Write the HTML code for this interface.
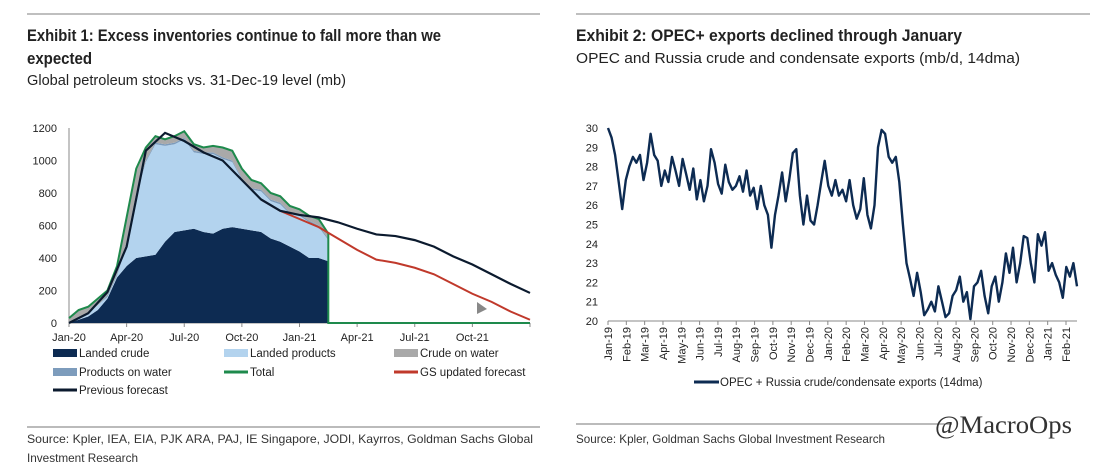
<!DOCTYPE html>
<html><head><meta charset="utf-8"><style>
html,body{margin:0;padding:0;background:#fff;}
svg{display:block;font-family:"Liberation Sans Narrow","Liberation Sans",sans-serif;}
</style></head><body>
<svg id="root" width="1116" height="476" viewBox="0 0 1116 476" xmlns="http://www.w3.org/2000/svg">
<line x1="27" y1="14" x2="540" y2="14" stroke="#999" stroke-width="1.2"/>
<line x1="576" y1="14" x2="1090" y2="14" stroke="#999" stroke-width="1.2"/>
<text x="27" y="41" font-size="17" font-weight="bold" fill="#222" textLength="414" lengthAdjust="spacingAndGlyphs">Exhibit 1: Excess inventories continue to fall more than we</text>
<text x="27" y="64" font-size="17" font-weight="bold" fill="#222" textLength="65" lengthAdjust="spacingAndGlyphs">expected</text>
<text x="27" y="85" font-size="15" fill="#222" textLength="319" lengthAdjust="spacingAndGlyphs">Global petroleum stocks vs. 31-Dec-19 level (mb)</text>
<text x="576" y="41" font-size="17" font-weight="bold" fill="#222" textLength="386" lengthAdjust="spacingAndGlyphs">Exhibit 2: OPEC+ exports declined through January</text>
<text x="576" y="63" font-size="15" fill="#222" textLength="444" lengthAdjust="spacingAndGlyphs">OPEC and Russia crude and condensate exports (mb/d, 14dma)</text>
<g id="left"></g>
<g id="right"></g>
<line x1="27" y1="427" x2="540" y2="427" stroke="#777" stroke-width="1"/>
<line x1="576" y1="424" x2="952" y2="424" stroke="#777" stroke-width="1"/>
<text x="27" y="443" font-size="12" fill="#333" textLength="506" lengthAdjust="spacingAndGlyphs">Source: Kpler, IEA, EIA, PJK ARA, PAJ, IE Singapore, JODI, Kayrros, Goldman Sachs Global</text>
<text x="27" y="462" font-size="12" fill="#333" textLength="111" lengthAdjust="spacingAndGlyphs">Investment Research</text>
<text x="576" y="443" font-size="12" fill="#333" textLength="309" lengthAdjust="spacingAndGlyphs">Source: Kpler, Goldman Sachs Global Investment Research</text>
<text x="935" y="433" font-size="25" fill="#333" font-family="'Liberation Serif',serif" textLength="137" lengthAdjust="spacingAndGlyphs">@MacroOps</text>
</svg>
<script>
// ---- Left chart data (half-monthly from Jan-20) ----
const landedCrude = [0,20,40,80,150,280,350,400,410,420,500,560,570,580,560,550,580,590,580,570,560,520,500,470,440,400,400,380];
const landedProducts = [0,10,20,30,10,10,130,380,580,680,590,540,560,470,480,490,430,400,300,250,250,230,230,200,220,220,190,130];
const crudeOnWater = [30,50,40,40,30,50,150,150,80,40,30,40,40,40,30,40,60,60,60,50,40,40,40,40,30,30,40,30];
const productsOnWater = [0,0,0,0,10,10,20,20,10,10,10,10,10,10,10,10,10,10,10,10,10,10,10,10,10,10,10,10];
const totalStocks = [30,80,100,150,200,350,650,950,1080,1150,1130,1150,1180,1100,1080,1090,1080,1060,950,880,860,800,780,720,700,660,640,550];
// monthly Jan-20..Jan-22
const previousForecast = [0,60,190,470,1060,1170,1120,1050,1000,880,760,690,665,650,620,580,545,535,510,470,410,360,300,240,185];
// monthly Nov-20..Jan-22
const gsForecast = [760,690,640,590,520,450,390,370,340,300,240,180,130,70,20];
const leftYTicks = [0,200,400,600,800,1000,1200];
const leftXLabels = ["Jan-20","Apr-20","Jul-20","Oct-20","Jan-21","Apr-21","Jul-21","Oct-21"];

// ---- Right chart data (weekly from Jan-19) ----
const opecExports = [30,29.5,28.6,27.2,25.8,27.3,28,28.5,28.2,28.6,27.3,28.2,29.7,28.6,28.3,27.0,27.8,27.2,28.5,27.8,27.0,28.4,27.6,26.8,27.9,26.3,27.3,26.2,27.0,28.9,28.2,27.1,26.6,28.1,27.2,26.8,27.0,27.5,26.7,27.8,26.5,26.9,25.8,27.0,26.0,25.5,23.8,25.5,26.5,27.7,26.2,27.3,28.7,28.9,26.5,25.0,26.5,25.2,25.0,26.0,27.2,28.3,27.0,26.5,27.3,26.5,26.8,26.2,27.3,26.0,25.3,25.8,27.4,25.5,24.8,26.0,29.0,29.9,29.7,28.5,28.2,28.5,27.2,25.0,23.0,22.2,21.3,22.5,21.5,20.3,20.6,21.0,20.5,21.8,21.0,20.2,20.4,21.3,21.6,22.3,21.0,21.5,20.1,21.8,22.0,22.6,21.3,20.4,21.8,22.3,21.0,22.0,23.5,22.5,23.8,22.0,23.0,24.4,24.3,23.0,22.0,24.5,23.9,24.6,22.6,23.0,22.4,22.0,21.2,22.8,22.3,23.0,21.8];
const rightYTicks = [20,21,22,23,24,25,26,27,28,29,30];
const rightXLabels = ["Jan-19","Feb-19","Mar-19","Apr-19","May-19","Jun-19","Jul-19","Aug-19","Sep-19","Oct-19","Nov-19","Dec-19","Jan-20","Feb-20","Mar-20","Apr-20","May-20","Jun-20","Jul-20","Aug-20","Sep-20","Oct-20","Nov-20","Dec-20","Jan-21","Feb-21"];

const NS="http://www.w3.org/2000/svg";
function mk(parent,tag,attrs){const e=document.createElementNS(NS,tag);for(const k in attrs)e.setAttribute(k,attrs[k]);parent.appendChild(e);return e;}

// ---- Left chart ----
(function(){
const g=document.getElementById('left');
const x0=69,x1=530,yb=323,yt=128;
const xm=m=>x0+(x1-x0)*m/24;      // months since Jan-20
const y=v=>yb-(yb-yt)*v/1200;
leftYTicks.forEach(t=>{
  const tx=mk(g,'text',{x:57,y:y(t)+4,'font-size':11,'text-anchor':'end',fill:'#222'});
  tx.textContent=t;
  
  
});
const ax=mk(g,'line',{x1:x0,y1:yb,x2:x0,y2:yt,stroke:'#888'});


const xa=mk(g,'line',{x1:x0,y1:yb,x2:x1,y2:yb,stroke:'#888'});


leftXLabels.forEach((l,i)=>{
  const tx=mk(g,'text',{x:xm(i*3),y:341,'font-size':11,'text-anchor':'middle',fill:'#222'});
  tx.textContent=l;
  
  
  mk(g,'line',{x1:xm(i*3),y1:yb,x2:xm(i*3),y2:yb+4,stroke:'#888'});
});
mk(g,'line',{x1:x1,y1:yb,x2:x1,y2:yb+4,stroke:'#888'});
const n=landedCrude.length;
const xs=i=>xm(i/2);
const layers=[[landedCrude,'#0d2b52','landed-crude-area'],[landedProducts,'#b3d3ee','landed-products-area'],[productsOnWater,'#7d9cbc','products-on-water-area'],[crudeOnWater,'#a9a9a9','crude-on-water-area']];
let base=new Array(n).fill(0);
layers.forEach(([arr,col,name])=>{
  const top=base.map((b,i)=>b+arr[i]);
  let d='M'+xs(0)+','+y(top[0]);
  for(let i=1;i<n;i++)d+='L'+xs(i)+','+y(top[i]);
  for(let i=n-1;i>=0;i--)d+='L'+xs(i)+','+y(base[i]);
  const p=mk(g,'path',{d:d+'Z',fill:col});
  
  
  base=top;
});
let d='M'+xs(0)+','+y(totalStocks[0]);
for(let i=1;i<n;i++)d+='L'+xs(i)+','+y(totalStocks[i]);
d+='L'+xs(n-1)+','+y(0)+'L'+x1+','+y(0);
const tl=mk(g,'path',{d:d,fill:'none',stroke:'#1e8a4c','stroke-width':2});


d='';gsForecast.forEach((v,i)=>{d+=(i?'L':'M')+xm(10+i)+','+y(v);});
const gl=mk(g,'path',{d:d,fill:'none',stroke:'#c0392b','stroke-width':2});


d='';previousForecast.forEach((v,i)=>{d+=(i?'L':'M')+xm(i)+','+y(v);});
const pl=mk(g,'path',{d:d,fill:'none',stroke:'#0b1a2e','stroke-width':2.2});


mk(g,'path',{d:'M477,302 L477,314 L487,309 Z',fill:'#888'});
const leg=[['Landed crude','#0d2b52',53,353,8],['Landed products','#b3d3ee',224,353,8],['Crude on water','#a9a9a9',394,353,8],['Products on water','#7d9cbc',53,372,8],['Total','#1e8a4c',224,372,3],['GS updated forecast','#c0392b',394,372,3],['Previous forecast','#0b1a2e',53,390,3]];
leg.forEach(([t,c,lx,ly,h])=>{
  const eg=mk(g,'g',{});
  
  
  mk(eg,'rect',{x:lx,y:ly-h/2,width:24,height:h,fill:c});
  const tx=mk(eg,'text',{x:lx+26,y:ly+4,'font-size':11.5,fill:'#222'});
  tx.textContent=t;
});
})();

// ---- Right chart ----
(function(){
const g=document.getElementById('right');
const x0=608,xEnd=1077,yb=321,yt=128;
const monthW=(1066-608)/25;
const y=v=>yb-(yb-yt)*(v-20)/10;
rightYTicks.forEach(t=>{
  const tx=mk(g,'text',{x:598,y:y(t)+4,'font-size':11,'text-anchor':'end',fill:'#222'});
  tx.textContent=t;
  
  
});
const xa=mk(g,'line',{x1:x0,y1:yb,x2:xEnd,y2:yb,stroke:'#888'});


rightXLabels.forEach((l,i)=>{
  const xx=x0+i*monthW;
  mk(g,'line',{x1:xx,y1:yb,x2:xx,y2:yb+4,stroke:'#888'});
  const tx=mk(g,'text',{x:0,y:0,'font-size':11,'text-anchor':'end',fill:'#222',transform:'translate('+(xx+4)+','+(yb+6)+') rotate(-90)'});
  tx.textContent=l;
  
  
});
const n=opecExports.length;
let d='';
opecExports.forEach((v,i)=>{d+=(i?'L':'M')+(x0+(xEnd-x0)*i/(n-1)).toFixed(1)+','+Math.min(yb,Math.max(yt,y(v))).toFixed(1);});
const l=mk(g,'path',{d:d,fill:'none',stroke:'#0d2b52','stroke-width':2.4,'stroke-linejoin':'round'});


const eg=mk(g,'g',{});


mk(eg,'rect',{x:694,y:380.5,width:25,height:3,fill:'#0d2b52'});
const tx=mk(eg,'text',{x:720,y:386,'font-size':11.5,fill:'#222'});
tx.textContent='OPEC + Russia crude/condensate exports (14dma)';
})();
</script>
</body></html>
